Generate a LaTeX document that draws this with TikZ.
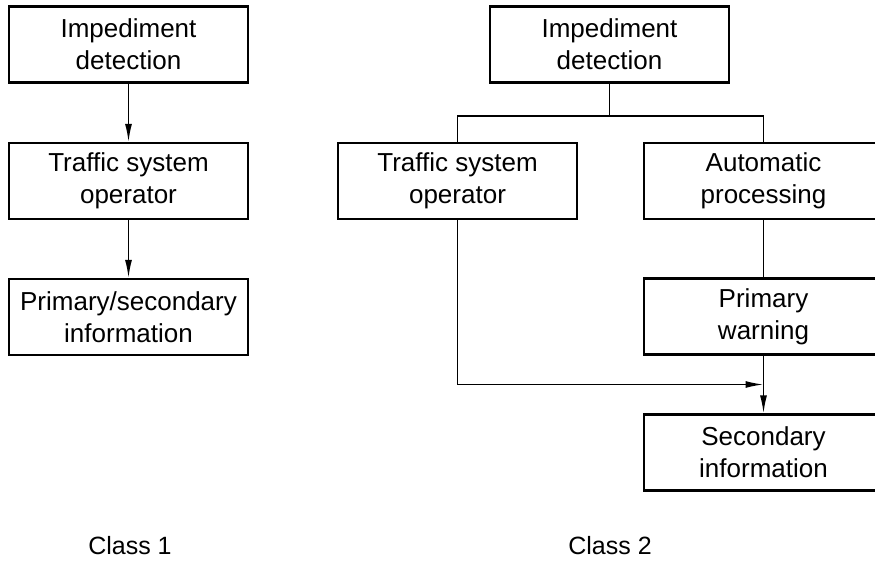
\documentclass[tikz,border=0pt]{standalone}
\usepackage{fontspec}
\setmainfont{Liberation Sans}
\usetikzlibrary{arrows.meta,calc}
\begin{document}
\begin{tikzpicture}[x=1pt,y=-1pt,
  box/.style={draw,line width=2.2pt,minimum width=239pt,minimum height=76pt,inner sep=0pt,align=center,font=\fontsize{26}{32}\selectfont},
  conn/.style={line width=1.6pt},
  arr/.style={conn,-{Latex[length=18pt,width=7pt]}},
  lbl/.style={font=\fontsize{25}{30}\selectfont,inner sep=0pt}]
\useasboundingbox (0,0) rectangle (875,561);
\clip (0,0) rectangle (875,561);
% Class 1
\node[box] (A1) at (128.5,44.5) {Impediment\\detection};
\node[box] (B1) at (128.5,181) {Traffic system\\operator};
\node[box] (C1) at (128.5,317) {Primary/secondary\\information};
\draw[arr] (A1) -- (B1);
\draw[arr] (B1) -- (C1);
% Class 2
\node[box] (A2) at (609.5,44.5) {Impediment\\detection};
\node[box] (T2) at (457.5,181) {Traffic system\\operator};
\node[box] (Au) at (763.5,181) {Automatic\\processing};
\node[box] (PW) at (763.5,316.5) {Primary\\warning};
\node[box] (SI) at (763.5,452.5) {Secondary\\information};
\draw[conn] (A2.south) -- ++(0,32.5) coordinate (br);
\draw[conn] (T2.north) |- (br) -| (Au.north);
\draw[conn] (Au) -- (PW);
\coordinate (j) at ($(PW.south)!0.5!(SI.north)$);
\draw[arr] (T2.south) |- (j);
\draw[arr] (PW) -- (SI);
% labels
\node[lbl] (L1) at (130,546) {Class 1};
\node[lbl] (L2) at (610,546) {Class 2};
\end{tikzpicture}
\end{document}
